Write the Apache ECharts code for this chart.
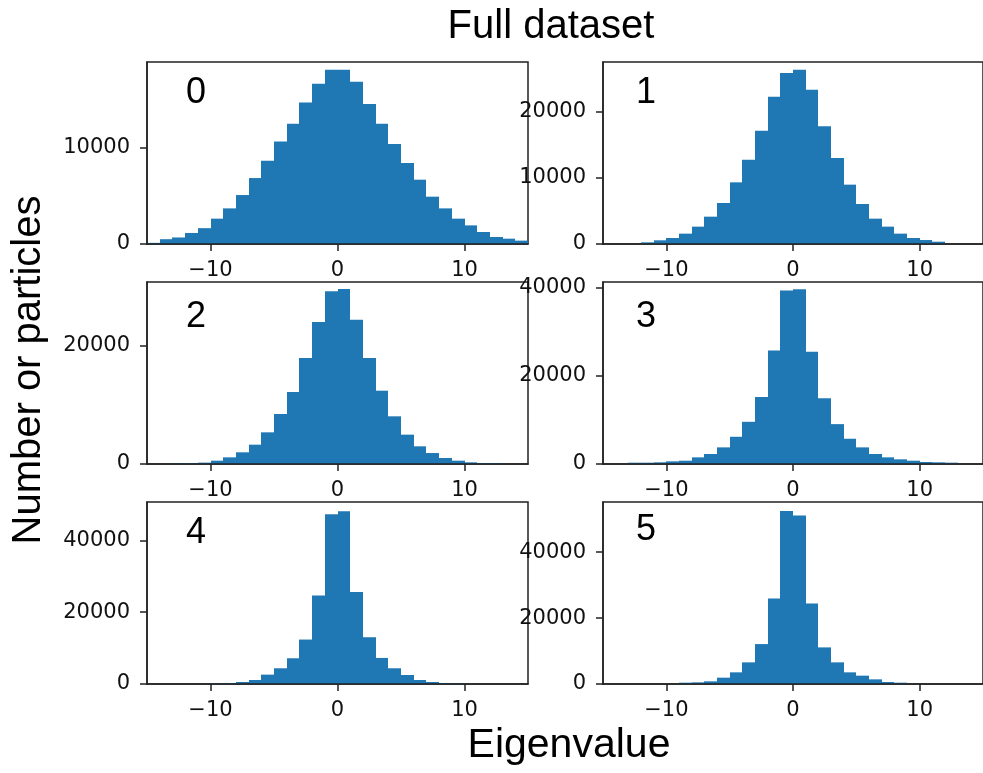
<!DOCTYPE html>
<html>
<head>
    <meta charset="UTF-8">
    <script type="text/javascript" src="https://cdn.jsdelivr.net/npm/echarts@6/dist/echarts.min.js"></script>
    <style>
        html, body { margin: 0; padding: 0; background: #fff; }
        #myDiv { width: 983px; height: 773px; }
    </style>
</head>
<body>
    <div id="myDiv"></div>
    <script type="text/javascript">
        // bin edges (unit width) shared by all panels
        var binEdges = [-15, -14, -13, -12, -11, -10, -9, -8, -7, -6, -5, -4, -3, -2, -1,
                        0, 1, 2, 3, 4, 5, 6, 7, 8, 9, 10, 11, 12, 13, 14, 15];

        // counts per bin, one array per eigenvalue panel
        var counts0 = [120, 500, 680, 1150, 1650, 2640, 3710, 5100, 6870, 8680, 10690, 12530, 14750, 16690, 18150,
                       18150, 16900, 14580, 12530, 10410, 8430, 6700, 4930, 3710, 2640, 1940, 1250, 730, 555, 350];
        var counts1 = [0, 0, 0, 250, 560, 910, 1570, 2630, 4140, 6210, 9340, 12780, 17170, 22320, 25900,
                       26400, 23380, 17830, 13030, 8990, 6060, 3840, 2630, 1570, 910, 600, 350, 0, 0, 0];
        var counts2 = [0, 0, 120, 150, 230, 560, 1120, 1970, 3260, 5340, 8430, 12140, 17870, 23940, 29110,
                       29500, 24340, 17870, 12360, 8040, 4950, 2980, 1850, 1010, 560, 280, 170, 170, 0, 0];
        var counts3 = [0, 0, 300, 300, 380, 600, 750, 1510, 2270, 3780, 6190, 9590, 15250, 25820, 39410,
                       39710, 25520, 14950, 9060, 5740, 3780, 2270, 1510, 1060, 750, 450, 380, 300, 0, 0];
        var counts4 = [0, 0, 0, 0, 0, 190, 280, 560, 1120, 2610, 4380, 7170, 12380, 24670, 47300,
                       48130, 25600, 13030, 7260, 4380, 2510, 1120, 560, 280, 190, 0, 0, 0, 0, 0];
        var counts5 = [0, 0, 0, 0, 0, 0, 400, 500, 810, 1920, 3540, 6570, 12120, 25960, 52520,
                       51110, 24440, 11110, 6570, 3540, 2530, 1410, 610, 400, 0, 0, 0, 0, 0, 0];

        var panelNames = ['0', '1', '2', '3', '4', '5'];
        var yMax = [18960, 27570, 30690, 41360, 50700, 55240];
        var xTicks = [-10, 0, 10];
        var yTicks0 = [0, 10000];
        var yTicks1 = [0, 10000, 20000];
        var yTicks2 = [0, 20000];
        var yTicks3 = [0, 20000, 40000];
        var yTicks4 = [0, 20000, 40000];
        var yTicks5 = [0, 20000, 40000];

        var allCounts = [counts0, counts1, counts2, counts3, counts4, counts5];
        var allYTicks = [yTicks0, yTicks1, yTicks2, yTicks3, yTicks4, yTicks5];

        var gridLefts = [147, 603];
        var gridTops = [62, 282, 502];
        var labelPos = [[186, 75], [636, 75], [186, 299], [636, 299], [186, 515], [636, 512]];

        function renderBar(params, api) {
            var a = api.coord([api.value(0), api.value(2)]);
            var b = api.coord([api.value(1), 0]);
            var x0 = Math.round(a[0]);
            var x1 = Math.round(b[0]);
            return {
                type: 'rect',
                shape: { x: x0, y: a[1], width: x1 - x0, height: b[1] - a[1] },
                style: { fill: '#1f77b4' }
            };
        }

        var tickFont = { fontFamily: 'DejaVu Sans', fontSize: 21, color: '#111' };

        var grids = [], xAxes = [], yAxes = [], series = [], titles = [];
        for (var i = 0; i < 6; i++) {
            var col = i % 2, row = Math.floor(i / 2);
            grids.push({
                left: gridLefts[col], top: gridTops[row], width: 381, height: 182,
                show: true, borderColor: '#222', borderWidth: 1.5
            });
            xAxes.push({
                gridIndex: i, type: 'value', min: -15, max: 15, z: 3,
                splitLine: { show: false },
                axisLine: { show: true, onZero: false, lineStyle: { color: '#222', width: 1.5 } },
                axisTick: { show: true, length: 7, customValues: xTicks, lineStyle: { color: '#222', width: 1.5 } },
                axisLabel: Object.assign({
                    margin: 16, customValues: xTicks,
                    formatter: function (v) { return v < 0 ? '\u2212' + Math.abs(v) : String(v); }
                }, tickFont)
            });
            yAxes.push({
                gridIndex: i, type: 'value', min: 0, max: yMax[i], z: 3,
                splitLine: { show: false },
                axisLine: { show: true, onZero: false, lineStyle: { color: '#222', width: 1.5 } },
                axisTick: { show: true, length: 7, customValues: allYTicks[i], lineStyle: { color: '#222', width: 1.5 } },
                axisLabel: Object.assign({
                    margin: 17, customValues: allYTicks[i],
                    formatter: function (v) { return String(v); }
                }, tickFont)
            });
            var bins = [];
            for (var k = 0; k < allCounts[i].length; k++) {
                if (allCounts[i][k] > 0) {
                    bins.push([binEdges[k], binEdges[k + 1], allCounts[i][k]]);
                }
            }
            series.push({
                type: 'custom', xAxisIndex: i, yAxisIndex: i, clip: true,
                renderItem: renderBar, encode: { x: [0, 1], y: 2 }, data: bins
            });
            titles.push({
                text: panelNames[i], left: labelPos[i][0], top: labelPos[i][1], padding: 0,
                textStyle: { fontFamily: 'Liberation Sans', fontSize: 36, fontWeight: 'normal', color: '#000' }
            });
        }

        var chart = echarts.init(document.getElementById('myDiv'));
        var option = {
            animation: false,
            backgroundColor: '#fff',
            title: titles,
            grid: grids,
            xAxis: xAxes,
            yAxis: yAxes,
            series: series,
            graphic: [
                {
                    type: 'text', x: 551, y: 27,
                    style: { text: 'Full dataset', fontFamily: 'Liberation Sans', fontSize: 40,
                             fill: '#000', align: 'center', verticalAlign: 'middle' }
                },
                {
                    type: 'text', x: 569, y: 746,
                    style: { text: 'Eigenvalue', fontFamily: 'Liberation Sans', fontSize: 41,
                             fill: '#000', align: 'center', verticalAlign: 'middle' }
                },
                {
                    type: 'text', x: 29, y: 370, rotation: Math.PI / 2,
                    style: { text: 'Number or particles', fontFamily: 'Liberation Sans', fontSize: 40,
                             fill: '#000', align: 'center', verticalAlign: 'middle' }
                }
            ]
        };
        chart.setOption(option);
    </script>
</body>
</html>
